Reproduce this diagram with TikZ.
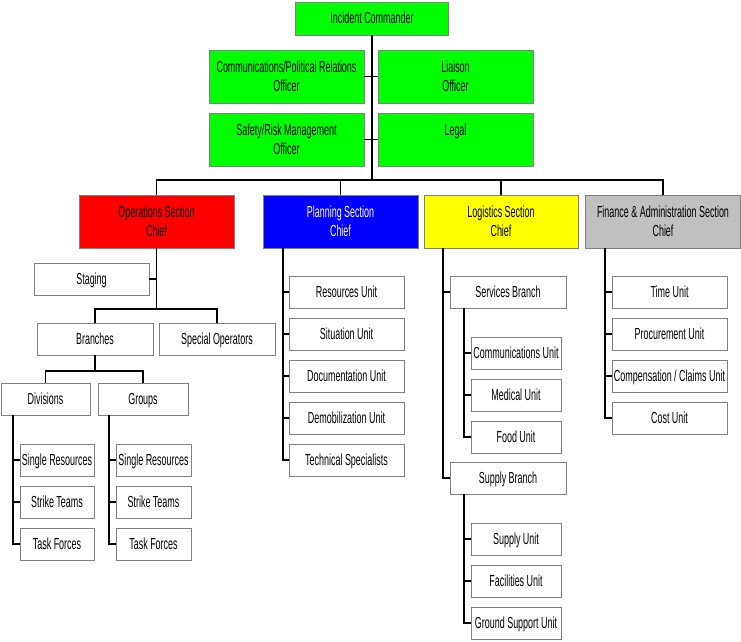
\documentclass[tikz,border=0pt]{standalone}
\usepackage{fontspec}
\setmainfont{Liberation Sans}[FakeStretch=0.56]
\usepackage{tikz}
\usetikzlibrary{shapes}
\definecolor{icsgreen}{RGB}{0,255,0}
\definecolor{icsred}{RGB}{255,0,0}
\definecolor{icsblue}{RGB}{0,0,255}
\definecolor{icsyellow}{RGB}{255,255,0}
\definecolor{icsgray}{RGB}{192,192,192}
\definecolor{edgegray}{RGB}{128,128,128}
\tikzstyle{box} = [rectangle, draw=edgegray, line width=0.9pt, fill=white, inner sep=0pt, align=center, minimum height=32pt, text height=11.7pt, text depth=1.5pt, font=\fontsize{16}{19}\selectfont]
\tikzstyle{chief} = [box, text height=, text depth=, minimum width=155pt, minimum height=53pt]
\tikzstyle{line} = [draw, line width=1.2pt, black]

\begin{document}
\begin{tikzpicture}[x=1pt, y=-1pt]
        \useasboundingbox (0,0) rectangle (741,641);

        % command staff
        \node (ic) [box, fill=icsgreen, minimum width=153pt, minimum height=33pt] at (372,18.5) {Incident Commander};
        \node (comm) [chief, fill=icsgreen] at (286.5,76.5) {Communications/Political Relations \\ Officer};
        \node (liaison) [chief, fill=icsgreen] at (455.5,76.5) {Liaison \\ Officer};
        \node (safety) [chief, fill=icsgreen] at (286.5,139.5) {Safety/Risk Management \\ Officer};
        \node (legal) [chief, fill=icsgreen] at (455.5,139.5) {Legal \\ ~};

        \coordinate (bus) at (372,180);
        \draw[line] (ic) -- (bus);
        \draw[line] (comm) -- (liaison);
        \draw[line] (safety) -- (legal);

        % section chiefs
        \node (ops) [chief, fill=icsred] at (156.5,221.5) {Operations Section \\ Chief};
        \node (plan) [chief, fill=icsblue, text=white] at (340.5,221.5) {Planning Section \\ Chief};
        \node (logi) [chief, fill=icsyellow, minimum width=154pt] at (501,221.5) {Logistics Section \\ Chief};
        \node (fin) [chief, fill=icsgray] at (663,221.5) {Finance \& Administration Section \\ Chief};

        \draw[line] (bus) -| (ops);
        \draw[line] (bus) -| (plan);
        \draw[line] (bus) -| (logi);
        \draw[line] (bus) -| (fin);

        % operations
        \node (staging) [box, minimum width=115pt] at (91.5,279) {Staging};
        \node (branches) [box, minimum width=116pt] at (95,339) {Branches};
        \node (special) [box, minimum width=116pt] at (217,339) {Special Operators};

        \coordinate (opsjoin) at (156.5,309);
        \draw[line] (ops) -- (opsjoin);
        \draw[line] (staging.east) -- (staging.east -| ops.south);
        \draw[line] (opsjoin) -| (branches);
        \draw[line] (opsjoin) -| (special);

        \node (div) [box, minimum width=89pt] at (45.5,399) {Divisions};
        \node (grp) [box, minimum width=90pt] at (143,399) {Groups};

        \coordinate (brjoin) at (95,371);
        \draw[line] (branches) -- (brjoin);
        \draw[line] (brjoin) -| (div);
        \draw[line] (brjoin) -| (grp);

        \node (div1) [box, minimum width=74pt] at (57,460) {Single Resources};
        \node (div2) [box, minimum width=74pt] at (57,502) {Strike Teams};
        \node (div3) [box, minimum width=74pt] at (57,544) {Task Forces};
        \node (grp1) [box, minimum width=75pt] at (153.5,460) {Single Resources};
        \node (grp2) [box, minimum width=75pt] at (153.5,502) {Strike Teams};
        \node (grp3) [box, minimum width=75pt] at (153.5,544) {Task Forces};

        \coordinate (divtrunk) at (13,415);
        \coordinate (grptrunk) at (109,415);
        \draw[line] (divtrunk) |- (div1);
        \draw[line] (divtrunk) |- (div2);
        \draw[line] (divtrunk) |- (div3);
        \draw[line] (grptrunk) |- (grp1);
        \draw[line] (grptrunk) |- (grp2);
        \draw[line] (grptrunk) |- (grp3);

        % planning
        \node (plan1) [box, minimum width=115pt] at (346.5,292) {Resources Unit};
        \node (plan2) [box, minimum width=115pt] at (346.5,334) {Situation Unit};
        \node (plan3) [box, minimum width=115pt] at (346.5,376) {Documentation Unit};
        \node (plan4) [box, minimum width=115pt] at (346.5,418) {Demobilization Unit};
        \node (plan5) [box, minimum width=115pt] at (346.5,460) {Technical Specialists};

        \coordinate (plantrunk) at (283,248);
        \draw[line] (plantrunk) |- (plan1);
        \draw[line] (plantrunk) |- (plan2);
        \draw[line] (plantrunk) |- (plan3);
        \draw[line] (plantrunk) |- (plan4);
        \draw[line] (plantrunk) |- (plan5);

        % logistics
        \node (serv) [box, minimum width=116pt] at (508,292) {Services Branch};
        \node (supp) [box, minimum width=116pt] at (508,478) {Supply Branch};

        \coordinate (logitrunk) at (443,248);
        \draw[line] (logitrunk) |- (serv);
        \draw[line] (logitrunk) |- (supp);

        \node (serv1) [box, minimum width=90pt] at (516,353) {Communications Unit};
        \node (serv2) [box, minimum width=90pt] at (516,395) {Medical Unit};
        \node (serv3) [box, minimum width=90pt] at (516,437) {Food Unit};
        \node (supp1) [box, minimum width=90pt] at (516,539) {Supply Unit};
        \node (supp2) [box, minimum width=90pt] at (516,581) {Facilities Unit};
        \node (supp3) [box, minimum width=90pt] at (516,623) {Ground Support Unit};

        \coordinate (servtrunk) at (464,308);
        \coordinate (supptrunk) at (464,494);
        \draw[line] (servtrunk) |- (serv1);
        \draw[line] (servtrunk) |- (serv2);
        \draw[line] (servtrunk) |- (serv3);
        \draw[line] (supptrunk) |- (supp1);
        \draw[line] (supptrunk) |- (supp2);
        \draw[line] (supptrunk) |- (supp3);

        % finance
        \node (fin1) [box, minimum width=115pt] at (669.5,292) {Time Unit};
        \node (fin2) [box, minimum width=115pt] at (669.5,334) {Procurement Unit};
        \node (fin3) [box, minimum width=115pt] at (669.5,376) {Compensation / Claims Unit};
        \node (fin4) [box, minimum width=115pt] at (669.5,418) {Cost Unit};

        \coordinate (fintrunk) at (605,248);
        \draw[line] (fintrunk) |- (fin1);
        \draw[line] (fintrunk) |- (fin2);
        \draw[line] (fintrunk) |- (fin3);
        \draw[line] (fintrunk) |- (fin4);

    \end{tikzpicture}
\end{document}
